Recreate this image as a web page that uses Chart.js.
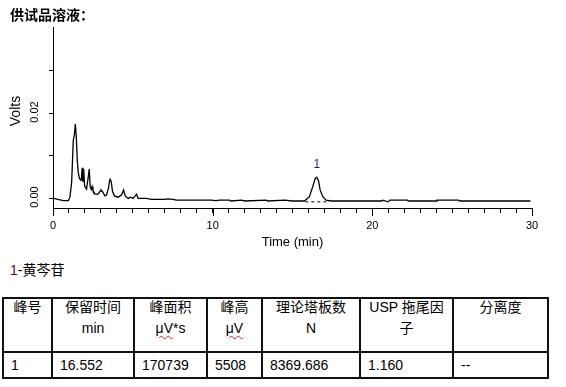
<!DOCTYPE html>
<html><head><meta charset="utf-8">
<script src="https://cdn.jsdelivr.net/npm/chart.js@4.4.1/dist/chart.umd.min.js"></script>
<style>
html,body{margin:0;padding:0;background:#fff;}
body{width:566px;height:387px;position:relative;overflow:hidden;font-family:"Liberation Sans","Noto Sans CJK SC",Arial,sans-serif;color:#000;}
#c{position:absolute;left:0;top:0;}
#title{position:absolute;left:10px;top:5px;font:bold 14px/18px "Noto Sans CJK SC",sans-serif;letter-spacing:0px;}
#legend{position:absolute;left:10px;top:261px;font:14px/18px "Liberation Sans","Noto Sans CJK SC",sans-serif;}
#legend .n{color:#5a1030;}
table{position:absolute;left:2px;top:297px;border-collapse:collapse;table-layout:fixed;font:14px "Liberation Sans","Noto Sans CJK SC",sans-serif;}
td,th{border:2px solid #111;padding:0;font-weight:normal;}
th{vertical-align:top;text-align:center;line-height:21px;}
th div{margin-top:-2px;}
tr.h{height:54px;}
tr.d{height:26px;}
td{text-align:left;vertical-align:middle;padding-left:7px;line-height:18px;}
.sp{text-decoration:underline wavy #e02020;text-decoration-thickness:1px;text-underline-offset:2px;}
</style>
</head><body>
<canvas id="c" width="566" height="250"></canvas>
<div id="title">供试品溶液：</div>
<div id="legend"><span class="n">1</span>-黄芩苷</div>
<table id="tbl">
<colgroup><col style="width:49px"><col style="width:82px"><col style="width:73px"><col style="width:55px"><col style="width:98px"><col style="width:93px"><col style="width:95px"></colgroup>
<tr class="h"><th><div>峰号</div></th><th><div>保留时间<br>min</div></th><th><div>峰面积<br><span class="sp">μV</span>*s</div></th><th><div>峰高<br><span class="sp">μV</span></div></th><th><div>理论塔板数<br>N</div></th><th><div>USP 拖尾因<br>子</div></th><th><div>分离度</div></th></tr>
<tr class="d"><td>1</td><td>16.552</td><td>170739</td><td>5508</td><td>8369.686</td><td>1.160</td><td>--</td></tr>
</table>
<script>
// ---- data ----
const times = [0,0.3,0.65,0.96,1.06,1.17,1.27,1.33,1.40,1.46,1.52,1.58,1.65,1.72,1.77,1.83,1.87,1.92,1.98,2.10,2.21,2.27,2.33,2.40,2.45,2.50,2.63,2.83,2.95,3.00,3.10,3.25,3.35,3.46,3.55,3.58,3.65,3.73,3.85,4.08,4.29,4.42,4.52,4.71,4.85,5.02,5.23,5.33,5.85,6.17,7.00,7.20,7.52,7.73,9.92,10.20,10.45,11.05,11.15,11.80,12.00,13.35,13.45,14.50,15.00,15.75,16.06,16.27,16.42,16.52,16.63,16.73,16.90,17.10,17.42,20.60,20.65,21.00,21.10,22.20,22.25,24.00,24.05,25.40,25.45,29.90];
const volts = [0.0000,-0.0003,-0.0006,-0.0006,0.0002,0.0038,0.0136,0.0146,0.0174,0.0144,0.0089,0.0061,0.0047,0.0042,0.0042,0.0071,0.0038,0.0068,0.0028,0.0021,0.0050,0.0068,0.0026,0.0020,0.0027,0.0019,0.0009,0.0009,0.0016,0.0019,0.0015,0.0005,0.0007,0.0021,0.0042,0.0044,0.0038,0.0015,0.0005,0.0002,0.0007,0.0019,0.0005,-0.0001,0.0002,-0.0001,0.0009,-0.0001,-0.0001,-0.0003,-0.0003,-0.0002,-0.0003,-0.0005,-0.0005,-0.0006,-0.0005,-0.0005,-0.0007,-0.0005,-0.0007,-0.0005,-0.0007,-0.0005,-0.0007,-0.0007,0.0003,0.0027,0.0046,0.0049,0.0041,0.0019,0.0003,-0.0005,-0.0007,-0.0007,-0.0005,-0.0009,-0.0005,-0.0005,-0.0007,-0.0007,-0.0005,-0.0005,-0.0007,-0.0007];
const baselineTimes = [15.8, 17.3];
const baselineVolts = [-0.0009, -0.0009];
const peakNames = ['1'];
const peakTimes = [16.52];
const xMajorTicks = [0, 10, 20, 30];
const yTickValues = [0, 0.01, 0.02, 0.03];
const yLabelValues = [0, 0.02];
const xLabel = 'Time (min)';
const yLabel = 'Volts';

const FAM = '"Liberation Sans", Arial, sans-serif';

const overlay = {
  id: 'overlay',
  afterDraw(chart) {
    const {ctx, scales: {x, y}} = chart;
    ctx.save();
    ctx.strokeStyle = '#000';
    ctx.lineWidth = 1;
    xMajorTicks.forEach(v => {
      const px = Math.round(x.getPixelForValue(v)) + 0.5;
      ctx.beginPath(); ctx.moveTo(px, y.bottom); ctx.lineTo(px, y.bottom + 8); ctx.stroke();
    });
    ctx.fillStyle = '#000';
    ctx.textAlign = 'center';
    ctx.textBaseline = 'middle';
    ctx.font = '11px ' + FAM;
    yLabelValues.forEach(v => {
      const py = y.getPixelForValue(v);
      ctx.save(); ctx.translate(35, py - 1); ctx.rotate(-Math.PI / 2);
      ctx.fillText(v.toFixed(2), 0, 0); ctx.restore();
    });
    ctx.font = '14px ' + FAM;
    ctx.save(); ctx.translate(16, y.getPixelForValue(0.02) - 2); ctx.rotate(-Math.PI / 2);
    ctx.fillText(yLabel, 0, 0); ctx.restore();
    ctx.font = '12px ' + FAM;
    ctx.fillStyle = '#1f1f7a';
    peakNames.forEach((n, i) => {
      const idx = times.indexOf(peakTimes[i]);
      const px = x.getPixelForValue(times[idx]);
      const py = y.getPixelForValue(volts[idx]);
      ctx.fillText(n, px, py - 13);
    });
    ctx.restore();
  }
};

new Chart(document.getElementById('c'), {
  type: 'line',
  data: {
    datasets: [
      {data: times.map((t, i) => ({x: t, y: volts[i]})), borderColor: '#000', borderWidth: 1.3, pointRadius: 0, tension: 0, fill: false},
      {data: baselineTimes.map((t, i) => ({x: t, y: baselineVolts[i]})), borderColor: '#000', borderWidth: 1, borderDash: [3, 3], pointRadius: 0, fill: false}
    ]
  },
  options: {
    responsive: false, animation: false, devicePixelRatio: 1,
    layout: {padding: {left: 0, right: 34, top: 27, bottom: 0}},
    plugins: {legend: {display: false}, tooltip: {enabled: false}},
    scales: {
      x: {
        type: 'linear', min: 0, max: 30,
        afterFit(s) { s.height = 42; },
        ticks: {stepSize: 1, autoSkip: false, maxRotation: 0, minRotation: 0, padding: 6, color: '#000', font: {size: 11, family: FAM},
          callback: v => (xMajorTicks.includes(v) ? String(v) : '')},
        grid: {drawOnChartArea: false, color: '#000', tickLength: 5},
        border: {color: '#000'},
        title: {display: true, text: xLabel, color: '#000', font: {size: 13, family: FAM}, padding: 0}
      },
      y: {
        min: -0.00235, max: 0.04024,
        afterFit(s) { s.width = 53; },
        afterBuildTicks(s) { s.ticks = yTickValues.map(v => ({value: v})); },
        ticks: {display: false},
        grid: {drawOnChartArea: false, color: '#000', tickLength: 4},
        border: {color: '#000'}
      }
    }
  },
  plugins: [overlay]
});
</script>
</body></html>
